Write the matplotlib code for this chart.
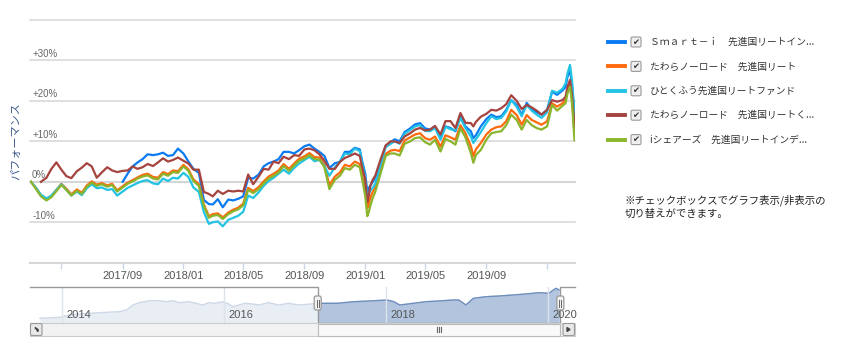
import numpy as np
import pandas as pd
import matplotlib
matplotlib.use('Agg')
import matplotlib.pyplot as plt
import matplotlib.dates as mdates
from matplotlib.patches import Rectangle, FancyBboxPatch, Polygon
from matplotlib.lines import Line2D
from matplotlib.transforms import Affine2D, blended_transform_factory

plt.rcParams['font.family'] = ['Liberation Sans', 'DejaVu Sans']
JP = ['Noto Sans CJK JP', 'DejaVu Sans']
nan = np.nan

# ---- main chart data (% change, compare mode) ----
dates = ['2017-03-01', '2017-03-11', '2017-03-21', '2017-04-01', '2017-04-11', '2017-04-21',
         '2017-05-01', '2017-05-11', '2017-05-21', '2017-06-01', '2017-06-11', '2017-06-21',
         '2017-07-01', '2017-07-11', '2017-07-21', '2017-08-01', '2017-08-11', '2017-08-21',
         '2017-09-01', '2017-09-11', '2017-09-21', '2017-10-01', '2017-10-11', '2017-10-21',
         '2017-11-01', '2017-11-11', '2017-11-21', '2017-12-01', '2017-12-11', '2017-12-21',
         '2018-01-01', '2018-01-11', '2018-01-21', '2018-02-01', '2018-02-11', '2018-02-21',
         '2018-03-01', '2018-03-11', '2018-03-21', '2018-04-01', '2018-04-11', '2018-04-21',
         '2018-05-01', '2018-05-11', '2018-05-21', '2018-06-01', '2018-06-11', '2018-06-21',
         '2018-07-01', '2018-07-11', '2018-07-21', '2018-08-01', '2018-08-11', '2018-08-21',
         '2018-09-01', '2018-09-11', '2018-09-21', '2018-10-01', '2018-10-11', '2018-10-21',
         '2018-11-01', '2018-11-11', '2018-11-21', '2018-12-01', '2018-12-11', '2018-12-21',
         '2018-12-26', '2019-01-01', '2019-01-05', '2019-01-08', '2019-01-11', '2019-01-16',
         '2019-01-21', '2019-02-01', '2019-02-11', '2019-02-21', '2019-03-01', '2019-03-11',
         '2019-03-21', '2019-04-01', '2019-04-11', '2019-04-21', '2019-05-01', '2019-05-11',
         '2019-05-21', '2019-06-01', '2019-06-11', '2019-06-21', '2019-07-01', '2019-07-11',
         '2019-07-21', '2019-08-01', '2019-08-06', '2019-08-11', '2019-08-21', '2019-09-01',
         '2019-09-11', '2019-09-21', '2019-10-01', '2019-10-11', '2019-10-21', '2019-11-01',
         '2019-11-11', '2019-11-21', '2019-12-01', '2019-12-11', '2019-12-21', '2020-01-01',
         '2020-01-11', '2020-01-21', '2020-02-01', '2020-02-07', '2020-02-11', '2020-02-16',
         '2020-02-20', '2020-02-25']

smart_i = [nan, nan, nan, nan, nan, nan, nan, nan, nan, nan, nan, nan,
           nan, nan, nan, nan, nan, nan, 0.0, 2.0, 3.8, 4.8, 5.6, 6.8,
           6.6, 6.8, 7.2, 6.4, 6.6, 8.2, 7.0, 5.0, 3.2, 2.2, -4.5, -5.5,
           -5.6, -4.3, -6.3, -4.4, -4.6, -4.2, -3.6, 1.0, 0.8, 1.8, 3.8, 4.6,
           5.0, 5.6, 7.4, 7.4, 7.0, 7.8, 8.8, 9.2, 8.2, 7.4, 6.4, 3.4,
           4.6, 4.9, 7.4, 7.4, 8.4, 8.0, 5.0, 2.0, -2.5, -1.5, -1.0, 0.0,
           1.0, 5.0, 8.9, 9.8, 10.5, 10.0, 12.3, 13.2, 14.2, 14.5, 13.2, 12.9,
           13.7, 10.8, 13.7, 13.3, 12.5, 16.2, 13.7, 12.5, 10.8, 11.5, 13.7, 15.5,
           16.6, 16.0, 16.2, 17.8, 20.2, 19.0, 16.6, 19.5, 18.0, 17.2, 16.6, 17.8,
           22.3, 21.5, 22.6, 23.4, 26.0, 27.6, 24.0, 16.0]

tawara = [0.0, -1.5, -3.3, -4.3, -3.5, -2.0, -0.5, -1.7, -3.1, -1.9, -2.7, -0.9,
          0.1, -0.7, -0.3, -0.9, -0.5, -2.1, -1.1, -0.2, 0.4, 1.1, 1.7, 2.0,
          1.2, 1.0, 2.4, 1.9, 2.8, 2.6, 4.2, 3.1, 0.6, -0.6, -5.6, -8.5,
          -8.0, -7.8, -8.8, -7.6, -6.9, -6.4, -5.4, -1.5, -2.3, -1.3, 0.1, 1.3,
          2.0, 2.8, 4.4, 3.2, 4.5, 5.7, 6.3, 7.1, 6.1, 6.0, 4.2, -0.8,
          1.3, 2.3, 4.2, 3.8, 5.0, 4.4, 1.5, -2.0, -6.5, -5.5, -4.0, -2.5,
          -1.5, 3.0, 6.9, 7.7, 7.9, 7.6, 10.2, 11.0, 11.7, 12.0, 10.8, 10.4,
          11.2, 8.7, 11.5, 11.0, 10.4, 14.0, 12.0, 8.8, 6.3, 8.0, 9.6, 11.7,
          12.9, 13.5, 13.7, 15.0, 17.8, 16.5, 14.1, 16.5, 15.3, 14.7, 14.1, 15.0,
          19.4, 18.6, 19.4, 20.2, 22.7, 24.3, 20.5, 12.0]

hitokufu = [0.0, -1.5, -3.2, -4.1, -3.4, -2.0, -0.6, -2.0, -3.4, -2.4, -3.3, -1.6,
            -0.6, -1.6, -1.4, -2.0, -1.8, -3.4, -2.4, -1.5, -0.9, -0.3, 0.2, 0.4,
            -0.4, -0.6, 0.8, 0.2, 1.0, 0.8, 2.2, 1.2, -1.4, -2.5, -7.5, -10.4,
            -10.0, -9.8, -11.0, -9.4, -8.9, -8.4, -7.4, -3.4, -4.0, -2.6, -1.0, 0.2,
            1.0, 2.0, 3.0, 2.0, 3.4, 4.5, 5.4, 6.2, 5.1, 5.4, 3.9, 1.5,
            3.6, 5.0, 7.0, 6.8, 8.2, 7.6, 4.5, 1.0, -4.0, -3.0, -2.2, -1.5,
            -0.5, 4.2, 8.6, 9.4, 10.0, 9.4, 11.9, 12.8, 13.7, 14.0, 12.6, 12.5,
            13.3, 10.4, 13.6, 13.0, 12.7, 15.8, 13.3, 11.2, 9.6, 10.5, 12.3, 14.5,
            16.2, 15.5, 15.8, 17.4, 20.2, 18.5, 16.2, 19.0, 17.6, 16.6, 15.8, 17.2,
            22.5, 22.0, 23.0, 24.3, 26.8, 28.9, 25.0, 17.0]

tawara_kuni = [nan, nan, 0.0, 1.0, 3.2, 4.8, 3.0, 1.4, 0.9, 2.6, 3.5, 4.6,
               3.8, 1.0, 2.3, 3.6, 2.8, 2.4, 2.7, 2.8, 3.8, 3.2, 3.6, 4.4,
               3.9, 4.8, 5.8, 5.0, 5.4, 6.0, 5.2, 4.5, 3.0, 3.0, -2.5, -3.0,
               -3.6, -2.2, -3.0, -2.2, -2.4, -2.2, -2.4, 1.8, -0.6, 1.3, 3.2, 3.0,
               5.0, 4.6, 6.2, 5.6, 6.6, 6.4, 8.0, 8.2, 7.8, 6.8, 5.2, 3.2,
               3.2, 4.9, 5.9, 6.4, 7.0, 6.4, 3.5, 0.5, -5.0, -3.5, -1.0, 0.5,
               1.5, 5.6, 9.0, 10.0, 10.0, 9.6, 11.2, 12.0, 12.9, 13.3, 12.7, 12.9,
               13.8, 11.7, 15.0, 15.0, 13.3, 17.0, 14.6, 14.5, 13.7, 14.8, 16.1, 16.8,
               17.8, 17.6, 18.2, 19.2, 21.4, 20.0, 18.0, 19.0, 18.4, 17.6, 16.6, 17.8,
               20.2, 19.8, 20.2, 21.0, 23.5, 25.2, 21.5, 13.5]

ishares = [0.0, -1.8, -3.6, -4.6, -3.8, -2.3, -0.8, -2.0, -3.4, -2.2, -3.0, -1.2,
           -0.2, -1.0, -0.6, -1.2, -0.8, -2.4, -1.4, -0.5, 0.1, 0.8, 1.3, 1.6,
           0.8, 0.6, 2.0, 1.5, 2.4, 2.2, 3.8, 2.7, 0.2, -1.0, -6.0, -8.9,
           -8.4, -8.2, -9.2, -8.0, -7.3, -6.8, -5.8, -2.0, -2.8, -1.8, -0.4, 0.8,
           1.5, 2.3, 3.9, 2.7, 4.0, 5.2, 5.8, 6.6, 5.6, 5.5, 3.6, -1.8,
           0.5, 1.5, 3.4, 3.0, 4.2, 3.6, 0.5, -3.5, -8.5, -7.5, -6.0, -4.0,
           -2.5, 2.2, 6.4, 7.0, 7.0, 6.5, 9.4, 10.0, 10.8, 11.0, 9.8, 9.2,
           10.4, 7.5, 10.6, 10.0, 9.2, 13.2, 11.0, 7.1, 4.7, 6.6, 7.9, 10.4,
           12.0, 12.3, 12.5, 14.0, 16.6, 15.3, 12.9, 15.3, 14.0, 13.3, 12.9, 13.7,
           19.0, 17.6, 18.8, 19.4, 21.9, 23.5, 19.5, 10.3]

series_names = ['Ｓｍａｒｔ－ｉ　先進国リートイン...',
                'たわらノーロード　先進国リート',
                'ひとくふう先進国リートファンド',
                'たわらノーロード　先進国リートく...',
                'iシェアーズ　先進国リートインデ...']
series_colors = ['#0a7bf2', '#ff6a0d', '#22c3e3', '#a5443f', '#8ab52c']
series_vals = [smart_i, tawara, hitokufu, tawara_kuni, ishares]

view_range = ['2017-02-27', '2020-02-26']
tick_dates = ['2017-05-01', '2017-09-01', '2018-01-01', '2018-05-01', '2018-09-01',
              '2019-01-01', '2019-05-01', '2019-09-01', '2020-01-01']
tick_labels = ['', '2017/09', '2018/01', '2018/05', '2018/09', '2019/01', '2019/05', '2019/09', '']
y_grid = [-20, -10, 0, 10, 20, 30, 40]
y_labels = {30: '+30%', 20: '+20%', 10: '+10%', 0: '0%', -10: '-10%'}

# ---- navigator data ----
nav_dates = ['2013-09-24', '2013-12-23', '2014-02-05', '2014-05-05', '2014-07-20', '2014-09-17',
             '2014-10-19', '2014-11-17', '2014-12-15', '2015-01-30', '2015-03-15', '2015-04-16',
             '2015-05-17', '2015-06-13', '2015-07-28', '2015-08-28', '2015-09-28', '2015-10-25',
             '2015-11-25', '2015-12-26', '2016-01-23', '2016-02-10', '2016-03-08', '2016-04-08',
             '2016-05-10', '2016-06-06', '2016-07-21', '2016-09-04', '2016-10-19', '2016-12-03',
             '2017-01-26', '2017-03-11', '2017-05-26', '2017-08-11', '2017-10-20', '2018-01-05',
             '2018-02-05', '2018-03-04', '2018-05-05', '2018-07-01', '2018-08-28', '2018-10-30',
             '2018-11-25', '2018-12-27', '2019-01-30', '2019-03-29', '2019-05-26', '2019-07-27',
             '2019-09-24', '2019-11-21', '2020-01-05', '2020-02-06', '2020-02-20']
nav_level = [4.7, 5.7, 8.0, 9.7, 10.7, 11.3, 13.0, 18.0, 20.3, 22.3, 22.3, 21.3,
             22.3, 20.3, 21.3, 19.7, 18.0, 20.3, 19.7, 21.3, 19.0, 16.3, 18.0, 19.7,
             19.0, 18.0, 20.3, 18.0, 19.7, 18.0, 19.0, 19.7, 19.7, 21.3, 22.0, 23.0,
             21.3, 18.0, 19.7, 21.3, 22.0, 23.0, 23.0, 18.0, 24.7, 26.3, 27.0, 28.0,
             29.0, 30.3, 29.7, 34.7, 33.0]
nav_range = ['2013-08-10', '2020-05-02']
nav_years = ['2014', '2016', '2018', '2020']

W, H = 843, 348
fig = plt.figure(figsize=(W / 100, H / 100), dpi=100)
px = Affine2D().scale(1 / 100) + fig.dpi_scale_trans   # pixel coords, origin bottom-left


def box(x0, y0, x1, y1):
    return [x0 / W, 1 - y1 / H, (x1 - x0) / W, (y1 - y0) / H]


# ---- main plot ----
ax = fig.add_axes(box(30, 20, 575, 262.7))
d = pd.to_datetime(dates)
for v, c in zip(series_vals, series_colors):
    ax.plot(d, v, color=c, lw=1.6, solid_joinstyle='round')
ax.set_xlim(pd.to_datetime(view_range[0]), pd.to_datetime(view_range[1]))
ax.set_ylim(-20, 40)
for y in y_grid:
    ax.axhline(y, color='#d6d6d6', lw=1.5 if y in (-20, 0) else 1.1, zorder=0, clip_on=False)
for s in ax.spines.values():
    s.set_visible(False)
ax.set_yticks([])
ax.set_xticks(pd.to_datetime(tick_dates))
ax.set_xticklabels(tick_labels)
ax.tick_params(axis='x', length=4, width=1, color='#ccd6eb', labelsize=8, labelcolor='#555555', pad=2)
tr = blended_transform_factory(ax.transAxes, ax.transData)
for v, lab in y_labels.items():
    ax.annotate(lab, xy=(0, v), xycoords=tr, xytext=(1.5, 1.2), textcoords='offset points',
                ha='left', va='bottom', fontsize=7, color='#666666')

fig.text(16 / W, 1 - 141 / H, 'パフォーマンス', rotation=90, ha='center', va='center',
         fontsize=8, color='#3d5b8f', family=JP)

# ---- navigator ----
nav = fig.add_axes(box(30, 287, 575, 323))
nd = pd.to_datetime(nav_dates)
nav.set_xlim(pd.to_datetime(nav_range[0]), pd.to_datetime(nav_range[1]))
nav.set_ylim(0, 36)
nav.axis('off')
for yr in nav_years:
    t = pd.to_datetime(yr + '-01-01')
    nav.axvline(t, color='#dde3ea', lw=1, zorder=5)
    nav.annotate(yr, xy=(t, 8), xytext=(3, 0), textcoords='offset points', ha='left', va='center',
                 fontsize=8, color='#555555', zorder=10)
nav.fill_between(nd, nav_level, 0, color='#e9eef5', lw=0, zorder=1)
nav.plot(nd, nav_level, color='#cdd8e6', lw=1, zorder=2)
s0 = mdates.date2num(pd.to_datetime(view_range[0]))
s1 = mdates.date2num(pd.to_datetime(view_range[1]))
clip = Rectangle((s0, 0), s1 - s0, 36, transform=nav.transData)
fb = nav.fill_between(nd, nav_level, 0, color='#b3c5de', lw=0, zorder=3)
fb.set_clip_path(clip)
ln, = nav.plot(nd, nav_level, color='#6e8ebd', lw=1, zorder=4)
ln.set_clip_path(clip)
xl = nav.get_xlim()
nav.plot([xl[0], s0, s0, s1, s1, xl[1]], [36, 36, 0, 0, 36, 36], color='#999999', lw=1,
         clip_on=False, zorder=6)

hx0 = nav.transData.transform((s0, 0))[0]
hx1 = nav.transData.transform((s1, 0))[0]

# scrollbar
fig.patches.append(Rectangle((30, H - 336), 545, 13, transform=px, facecolor='#f2f2f2',
                             edgecolor='#cccccc', lw=0.8))
fig.patches.append(Rectangle((hx0, H - 335.5), hx1 - hx0, 12, transform=px, facecolor='#f9f9f9',
                             edgecolor='#bbbbbb', lw=0.8))
for bx in (30, 562.5):
    fig.patches.append(FancyBboxPatch((bx + 0.5, H - 335.5), 11.5, 12, boxstyle='round,pad=0,rounding_size=1.5',
                                      transform=px, facecolor='#e8e8e8', edgecolor='#999999', lw=0.8))
fig.patches.append(Polygon([(38, H - 329.5), (35, H - 327.5), (38, H - 331.5)], closed=True,
                           transform=px, color='#444444'))
fig.patches.append(Polygon([(567, H - 331.5), (570, H - 329.5), (567, H - 327.5)], closed=True,
                           transform=px, color='#444444'))
gx = (hx0 + hx1) / 2
for k in (-2, 0, 2):
    fig.lines.append(Line2D([gx + k, gx + k], [H - 332, H - 327], transform=px, color='#666666', lw=0.8))

# handles
for hx in (hx0, hx1):
    fig.patches.append(FancyBboxPatch((hx - 3.5, H - 310), 7, 14, boxstyle='round,pad=0,rounding_size=2',
                                      transform=px, facecolor='#f2f2f2', edgecolor='#999999', lw=0.9, zorder=6))
    for k in (-1, 1):
        fig.lines.append(Line2D([hx + k, hx + k], [H - 306.5, H - 299.5], transform=px,
                                color='#666666', lw=0.7, zorder=7))

# ---- legend ----
for i, (name, c) in enumerate(zip(series_names, series_colors)):
    y = H - (42 + 24.4 * i)
    fig.lines.append(Line2D([608, 625], [y, y], transform=px, color=c, lw=2.8))
    fig.patches.append(FancyBboxPatch((631, y - 5), 10, 10, boxstyle='round,pad=0,rounding_size=1.5',
                                      transform=px, facecolor='#eeeeee', edgecolor='#9a9a9a', lw=0.8))
    fig.text(636 / W, y / H, '✔', ha='center', va='center', fontsize=6, color='#333333',
             family='DejaVu Sans')
    fig.text(650 / W, y / H, name, ha='left', va='center', fontsize=7, color='#333333', family=JP)

fig.text(625 / W, 1 - 200 / H, '※チェックボックスでグラフ表示/非表示の', ha='left', va='center',
         fontsize=7.5, color='#222222', family=JP)
fig.text(625 / W, 1 - 214 / H, '切り替えができます。', ha='left', va='center',
         fontsize=7.5, color='#222222', family=JP)

fig.savefig('out.png', dpi=100)
